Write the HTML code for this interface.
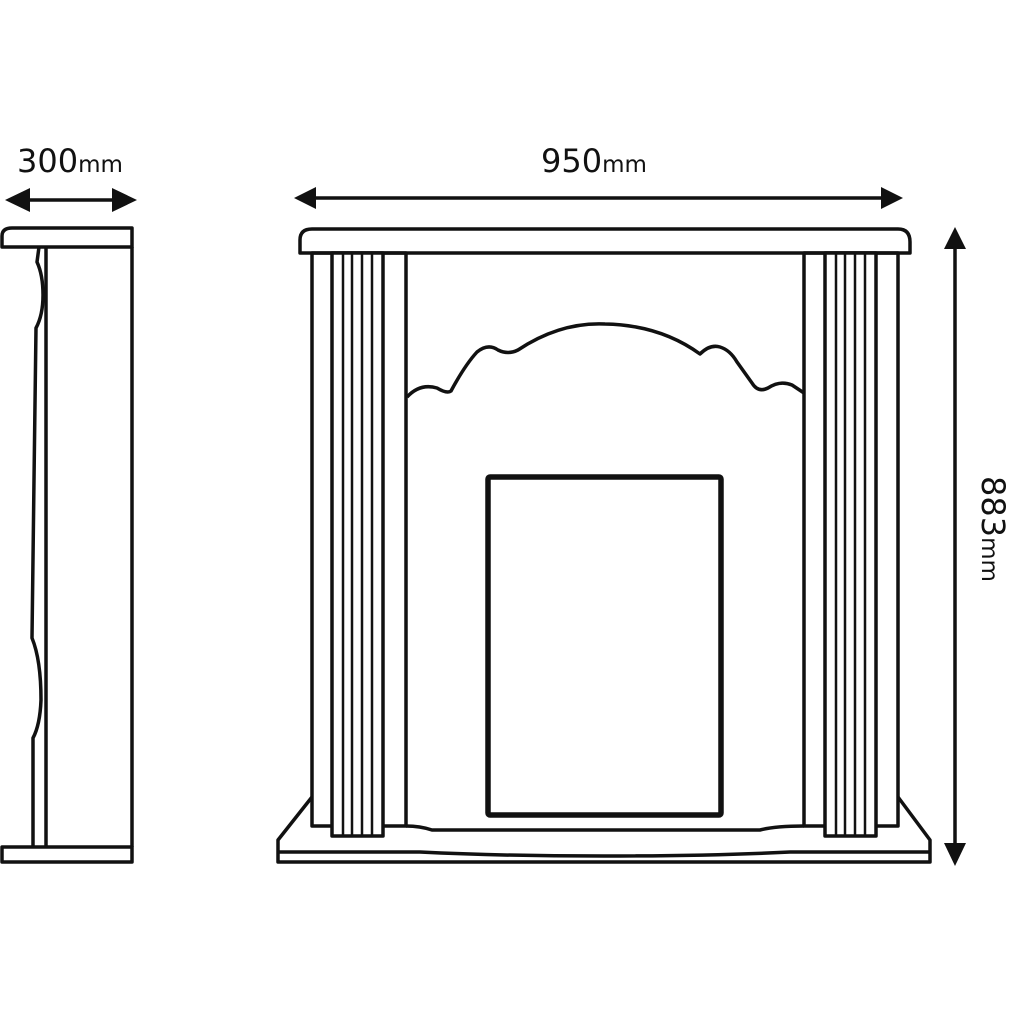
<!DOCTYPE html>
<html><head><meta charset="utf-8"><style>html,body{margin:0;padding:0;background:#fff}svg{display:block}</style></head>
<body>
<svg width="1011" height="1011" viewBox="0 0 1011 1011" xmlns="http://www.w3.org/2000/svg" font-family="DejaVu Sans, Liberation Sans, sans-serif" fill="none" stroke="#111" stroke-width="3.5" stroke-linejoin="round">
<!-- Labels -->
<text x="17" y="172" font-size="32" fill="#111" stroke="none">300<tspan font-size="23">mm</tspan></text>
<text x="541" y="172" font-size="32" fill="#111" stroke="none">950<tspan font-size="23">mm</tspan></text>
<text transform="translate(982,476) rotate(90)" font-size="32" fill="#111" stroke="none">883<tspan font-size="23">mm</tspan></text>
<!-- arrows -->
<line x1="25" y1="200" x2="115" y2="200"/>
<polygon points="5,200 30,188 30,212" fill="#111" stroke="none"/>
<polygon points="137,200 112,188 112,212" fill="#111" stroke="none"/>
<line x1="312" y1="198" x2="884" y2="198"/>
<polygon points="294,198 316,187 316,209" fill="#111" stroke="none"/>
<polygon points="903,198 881,187 881,209" fill="#111" stroke="none"/>
<line x1="955" y1="245" x2="955" y2="846"/>
<polygon points="955,227 944,249 966,249" fill="#111" stroke="none"/>
<polygon points="955,866 944,843 966,843" fill="#111" stroke="none"/>
<!-- Side view -->
<path d="M2,247 L2,236 Q2,228 12,228 L132,228 L132,247 Z"/>
<line x1="132" y1="247" x2="132" y2="847"/>
<line x1="46" y1="247" x2="46" y2="847"/>
<path d="M39,247 L37,262 Q43,275 43,295 Q43,315 36,328 L34,480 L32,638 Q41,660 41,700 Q40,725 33,738 L33,847"/>
<rect x="2" y="847" width="130" height="15"/>
<!-- Mantel -->
<path d="M300,253 L300,240 Q300,229 312,229 L898,229 Q910,229 910,242 L910,253 Z"/>
<!-- left pillar -->
<rect x="312" y="253" width="94" height="573"/>
<rect x="332" y="253" width="51" height="583" fill="#fff"/>
<g stroke-width="2.5">
<line x1="343" y1="253" x2="343" y2="836"/><line x1="352" y1="253" x2="352" y2="836"/>
<line x1="362" y1="253" x2="362" y2="836"/><line x1="372" y1="253" x2="372" y2="836"/>
</g>
<!-- right pillar -->
<rect x="804" y="253" width="94" height="573"/>
<rect x="825" y="253" width="51" height="583" fill="#fff"/>
<g stroke-width="2.5">
<line x1="836" y1="253" x2="836" y2="836"/><line x1="845" y1="253" x2="845" y2="836"/>
<line x1="855" y1="253" x2="855" y2="836"/><line x1="865" y1="253" x2="865" y2="836"/>
</g>
<!-- arch -->
<path d="M407,397 Q420,383 437,388 Q447,394 451,391 Q465,365 477,352 Q488,343 498,350 Q508,355 518,350 Q560,322 605,324 Q660,325 700,354 Q710,344 720,347 Q730,350 737,362 L752,383 Q758,393 768,388 Q780,380 792,385 L804,393"/>
<!-- fire opening -->
<rect x="488" y="477" width="233" height="338" stroke-width="5.5" rx="2"/>
<!-- hearth -->
<path d="M406,826 Q420,826 432,830 L760,830 Q775,826 804,826"/>
<path d="M312,797 L278,840 L278,862 L930,862 L930,840 L898,797"/>
<path d="M278,852 L420,852 Q500,856 604,856 Q710,856 790,852 L930,852"/>
</svg>
</body></html>
